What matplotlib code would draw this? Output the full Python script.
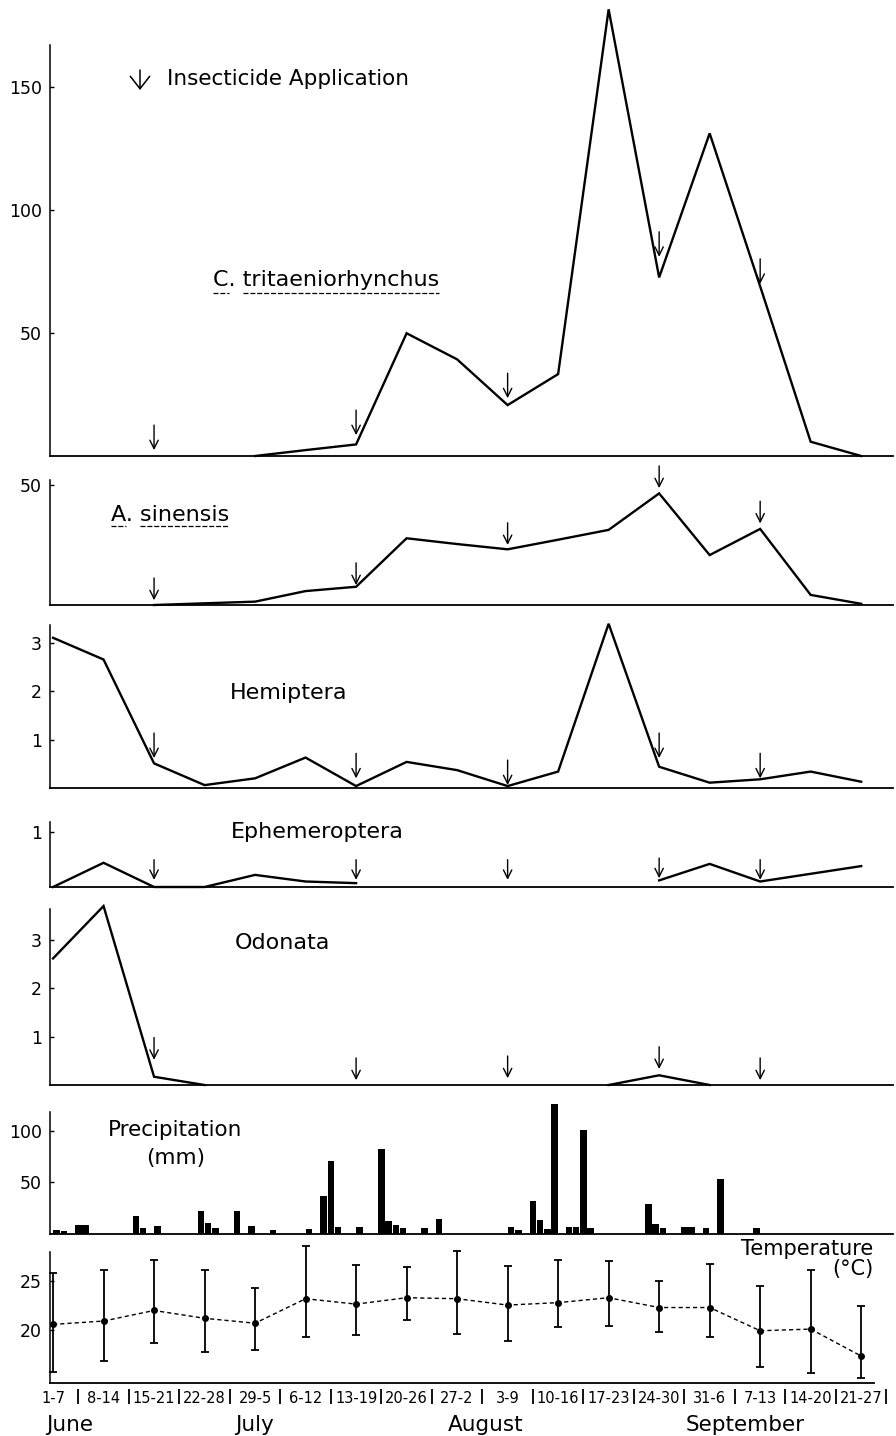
import numpy as np
import matplotlib
matplotlib.use("Agg")
import matplotlib.pyplot as plt
from matplotlib.lines import Line2D

W, H, DPI = 896, 1436, 100

# ---- data (weeks from 1-7 June to 21-27 September) ----
nan = np.nan
weeks = list(range(17))
week_labels = ["1-7", "8-14", "15-21", "22-28", "29-5", "6-12", "13-19", "20-26",
               "27-2", "3-9", "10-16", "17-23", "24-30", "31-6", "7-13", "14-20", "21-27"]
months = ["June", "July", "August", "September"]

c_tritaeniorhynchus = [nan, nan, nan, nan, 0, 2.4, 4.7, 49.9, 39.3, 20.7, 33.3,
                       181.6, 72.6, 131.2, 69, 5.8, 0]
a_sinensis = [nan, nan, 0, 0.7, 1.4, 5.8, 7.6, 27.8, 25.4, 23.2, 27.2,
              31.3, 46.5, 20.8, 31.7, 4.2, 0.5]
hemiptera = [3.11, 2.66, 0.51, 0.06, 0.2, 0.63, 0.04, 0.54, 0.37, 0.04, 0.34,
             3.4, 0.44, 0.11, 0.18, 0.34, 0.13]
ephemeroptera = [0, 0.44, 0, 0, 0.22, 0.1, 0.07, nan, nan, nan, nan,
                 nan, 0.12, 0.42, 0.1, 0.24, 0.38]
odonata = [2.61, 3.69, 0.17, 0, nan, nan, nan, nan, nan, nan, nan,
           0, 0.2, 0, nan, nan, nan]

# insecticide applications (week index) and where each arrow points in every panel
spray_weeks = [2, 6, 9, 12, 14]
tips_c_tri = [2.4, 8.5, 23.5, 81, 70]
tips_a_sin = [2, 8.3, 25, 48.7, 34]
tips_hemi = [0.62, 0.2, 0.06, 0.62, 0.2]
tips_ephem = [0.13, 0.13, 0.13, 0.16, 0.13]
tips_odon = [0.52, 0.1, 0.14, 0.33, 0.1]

# daily precipitation, day 0 = 1 June
rain_day = [0, 1, 3, 4, 11, 12, 14, 20, 21, 22, 25, 27, 30, 35, 37, 38, 39, 42, 45, 46,
            47, 48, 51, 53, 63, 64, 66, 67, 68, 69, 71, 72, 73, 74, 82, 83, 84, 87, 88, 90,
            92, 97]
rain_mm = [4, 3.5, 9, 9, 18, 6.4, 8.4, 22, 11, 5.8, 22.5, 8, 4.2, 4.8, 37, 70.7, 7.4, 6.8, 82, 13,
           9, 6.4, 5.8, 14.5, 6.8, 4.2, 32, 13.8, 5, 125.7, 6.8, 6.8, 100.6, 5.8, 29, 9.6, 5.8, 6.8, 6.8,
           5.8, 53, 6.4]

# weekly temperature (°C)
temp_mean = [20.58, 20.92, 22.0, 21.2, 20.7, 23.2, 22.65, 23.3, 23.2, 22.55, 22.8,
             23.3, 22.3, 22.3, 19.93, 20.1, 17.35]
temp_max = [25.8, 26.1, 27.2, 26.1, 24.25, 28.6, 26.6, 26.4, 28.06, 26.5, 27.1,
            27.05, 25.0, 26.7, 24.5, 26.1, 22.45]
temp_min = [15.75, 16.8, 18.7, 17.8, 18.0, 19.3, 19.5, 21.0, 19.6, 18.9, 20.3,
            20.4, 19.8, 19.3, 16.2, 15.6, 15.1]

# ---- layout (pixels of the 896x1436 canvas) ----
LEFT_PX, RIGHT_PX = 50, 893
XLIM = (-0.06, 16.63)
LABEL_FONT = "DejaVu Sans"

fig = plt.figure(figsize=(W / DPI, H / DPI), dpi=DPI)
fig.patch.set_facecolor("white")


def panel(top_px, bottom_px, ylim, spine_top=None, yticks=(), xspine_end=None):
    ax = fig.add_axes([LEFT_PX / W, 1 - bottom_px / H,
                       (RIGHT_PX - LEFT_PX) / W, (bottom_px - top_px) / H])
    ax.set_xlim(*XLIM)
    ax.set_ylim(*ylim)
    for s in ("top", "right"):
        ax.spines[s].set_visible(False)
    ax.spines["left"].set_linewidth(1.1)
    ax.spines["bottom"].set_linewidth(1.3)
    if spine_top is not None:
        ax.spines["left"].set_bounds(ylim[0], spine_top)
    if xspine_end is not None:
        ax.spines["bottom"].set_bounds(XLIM[0], xspine_end)
    ax.set_xticks([])
    ax.set_yticks(list(yticks))
    ax.tick_params(axis="y", direction="in", length=3, width=1, pad=6, labelsize=12.5)
    ax.patch.set_alpha(0)
    return ax


def series(ax, values, tips, arrow_pts=17):
    ax.plot(weeks, values, color="black", lw=1.7, solid_joinstyle="miter", clip_on=False)
    for w, tip in zip(spray_weeks, tips):
        ax.annotate("", xy=(w, tip), xytext=(0, arrow_pts), textcoords="offset points",
                    annotation_clip=False,
                    arrowprops=dict(arrowstyle="->,head_length=0.6,head_width=0.3",
                                    lw=1.0, color="black", shrinkA=0, shrinkB=0))


ax1 = panel(1, 456, (0, 185), spine_top=167, yticks=[50, 100, 150])
series(ax1, c_tritaeniorhynchus, tips_c_tri, 18)

ax2 = panel(480.2, 605, (0, 52), yticks=[50])
series(ax2, a_sinensis, tips_a_sin, 16)

ax3 = panel(622.8, 788, (0, 3.42), spine_top=3.37, yticks=[1, 2, 3])
series(ax3, hemiptera, tips_hemi, 18)

ax4 = panel(821, 887, (0, 1.2), spine_top=1.18, yticks=[1])
series(ax4, ephemeroptera, tips_ephem, 14.5)

ax5 = panel(904.6, 1085, (0, 3.72), spine_top=3.63, yticks=[1, 2, 3])
series(ax5, odonata, tips_odon, 16)

ax6 = panel(1101.6, 1234.3, (0, 128), spine_top=118, yticks=[50, 100])
ax6.bar([(d + 0.5) / 7 for d in rain_day], rain_mm, width=0.9 / 7,
        color="black", clip_on=False)

ax7 = panel(1242.85, 1382.5, (14.65, 28.9), spine_top=28.0, yticks=[20, 25], xspine_end=16.25)
mean = np.array(temp_mean)
yerr = [mean - np.array(temp_min), np.array(temp_max) - mean]
ax7.errorbar(weeks, temp_mean, yerr=yerr, fmt="o", ms=4, color="black",
             elinewidth=1.3, capsize=3.2, capthick=1.3, clip_on=False)
ax7.plot(weeks, temp_mean, color="black", lw=1.0, ls=(0, (3, 2.2)))

# week labels with vertical separators, months underneath
ax7.set_xticks(weeks)
ax7.set_xticklabels(week_labels, family=LABEL_FONT, fontsize=10.5)
ax7.tick_params(axis="x", length=0, pad=6)
ax7.vlines([w + 0.5 for w in weeks], -0.047, -0.155, transform=ax7.get_xaxis_transform(),
           color="black", lw=1.3, clip_on=False)
MONTH_X = [-0.14, 3.6, 7.82, 12.53]
for mx, name in zip(MONTH_X, months):
    ax7.text(mx, -0.305, name, transform=ax7.get_xaxis_transform(), ha="left", va="center",
             fontsize=15.5, family=LABEL_FONT)


# ---- panel captions ----
def caption(x_px, y_px, s, size=16, ha="left"):
    return fig.text(x_px / W, 1 - y_px / H, s, ha=ha, va="center", fontsize=size,
                    family=LABEL_FONT)


fig.canvas.draw()
renderer = fig.canvas.get_renderer()


def underline(t, lead, y_px):
    # dashed underline below a caption, with a gap after the genus initial
    bb = t.get_window_extent(renderer)
    tmp = fig.text(0, 0, lead, fontsize=t.get_fontsize(), family=LABEL_FONT)
    lead_w = tmp.get_window_extent(renderer).width
    tmp.remove()
    ini = fig.text(0, 0, lead[0], fontsize=t.get_fontsize(), family=LABEL_FONT)
    ini_w = ini.get_window_extent(renderer).width
    ini.remove()
    y = 1 - y_px / H
    for x0, x1 in ((bb.x0, bb.x0 + ini_w), (bb.x0 + lead_w, bb.x1)):
        fig.add_artist(Line2D([x0 / W, x1 / W], [y, y], transform=fig.transFigure,
                              color="black", lw=0.9, ls=(0, (4, 1.5))))


caption(167, 79, "Insecticide Application", size=15.5)
fig.add_artist(plt.Annotation("", xy=(140 / W, 1 - 90 / H), xytext=(140 / W, 1 - 70 / H),
                              xycoords="figure fraction", textcoords="figure fraction",
                              arrowprops=dict(arrowstyle="->,head_length=0.9,head_width=0.7",
                                              lw=1.1, color="black", shrinkA=0, shrinkB=0)))

t_c = caption(213, 280, "C. tritaeniorhynchus", size=16)
underline(t_c, "C. ", 293)
t_a = caption(111, 515, "A. sinensis", size=16)
underline(t_a, "A. ", 526)
caption(230, 693, "Hemiptera")
caption(231, 832, "Ephemeroptera")
caption(235, 943, "Odonata")
caption(108, 1130, "Precipitation", size=15.5)
caption(176, 1158, "(mm)", size=15.5, ha="center")
caption(873, 1249, "Temperature", size=15, ha="right")
caption(873, 1269, "(°C)", size=15, ha="right")

fig.savefig("out.png", dpi=DPI, facecolor="white")
